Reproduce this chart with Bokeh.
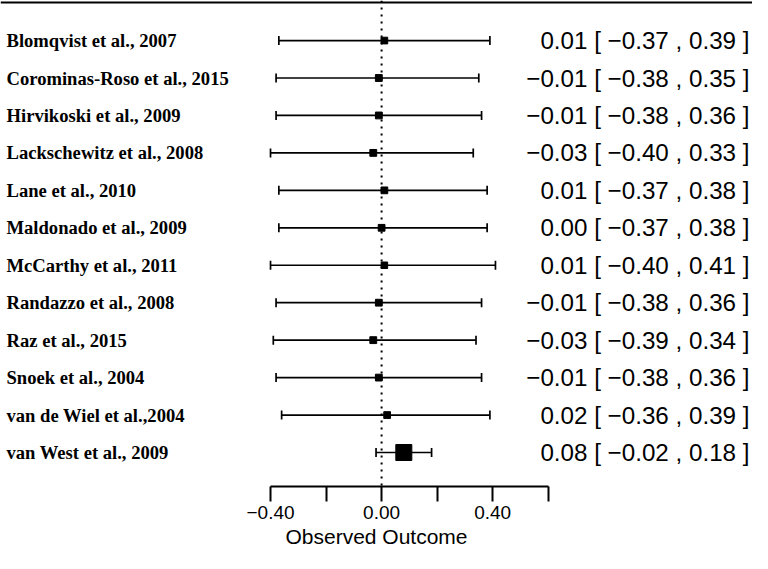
from bokeh.plotting import figure
from bokeh.models import Range1d, LinearAxis, FixedTicker, Span, ColumnDataSource
from bokeh.core.properties import value
from bokeh.embed import file_html
from bokeh.resources import INLINE

studies = ["Blomqvist et al., 2007", "Corominas-Roso et al., 2015", "Hirvikoski et al., 2009",
           "Lackschewitz et al., 2008", "Lane et al., 2010", "Maldonado et al., 2009",
           "McCarthy et al., 2011", "Randazzo et al., 2008", "Raz et al., 2015",
           "Snoek et al., 2004", "van de Wiel et al.,2004", "van West et al., 2009"]
estimate = [0.01, -0.01, -0.01, -0.03, 0.01, 0.00, 0.01, -0.01, -0.03, -0.01, 0.02, 0.08]
ci_lower = [-0.37, -0.38, -0.38, -0.40, -0.37, -0.37, -0.40, -0.38, -0.39, -0.38, -0.36, -0.02]
ci_upper = [0.39, 0.35, 0.36, 0.33, 0.38, 0.38, 0.41, 0.36, 0.34, 0.36, 0.39, 0.18]
tick_values = [-0.4, -0.2, 0.0, 0.2, 0.4, 0.6]
tick_labels = {-0.4: "\u22120.40", -0.2: "", 0.0: "0.00", 0.2: "", 0.4: "0.40", 0.6: ""}
axis_title = "Observed Outcome"

n = len(studies)
rows = [n - i for i in range(n)]

def fmt(v):
    s = "%.2f" % abs(v)
    return ("\u2212" + s) if v < 0 else s

# point size from inverse standard error (derived from CI width), as in metafor
se = [(u - l) / 3.92 for l, u in zip(ci_lower, ci_upper)]
w = [1.0 / s for s in se]
wmin, wmax = min(w), max(w)
psize = [6.5 + (wi - wmin) / (wmax - wmin) * 9.5 for wi in w]

W, H = 752, 553
FRAME_H = 486
PX_X = 277.7          # pixels per unit on x
PX_Y = 37.45          # pixels per row
x0 = -381.1 / PX_X
x1 = (W - 381.1) / PX_X
y0 = 1 - 34 / PX_Y
y1 = 1 + 452 / PX_Y

p = figure(width=W, height=H, output_backend="svg", toolbar_location=None,
           x_range=Range1d(x0, x1), y_range=Range1d(y0, y1),
           x_axis_type=None, y_axis_type=None,
           min_border_left=0, min_border_right=0, min_border_top=0,
           min_border_bottom=H - FRAME_H)
p.outline_line_color = None
p.grid.visible = False
p.background_fill_color = "white"
p.border_fill_color = "white"

cap = 4.5 / PX_Y
src = ColumnDataSource(dict(
    y=rows, est=estimate, lo=ci_lower, hi=ci_upper, size=psize,
    study=studies,
    lab=[fmt(e) + " [ " + fmt(l) + " , " + fmt(u) + " ]" for e, l, u in zip(estimate, ci_lower, ci_upper)],
    ytop=[r + cap for r in rows], ybot=[r - cap for r in rows],
    xl=[x0 + 6 / PX_X] * n, xr=[x0 + 749 / PX_X] * n,
))

# top rule
p.add_layout(Span(location=y1 - 2 / PX_Y, dimension="width", line_color="black", line_width=2.2))
# reference line at zero
p.add_layout(Span(location=0, dimension="height", line_color="black", line_width=2,
                  line_dash="2 5"))

p.segment(x0="lo", x1="hi", y0="y", y1="y", source=src, line_color="black", line_width=1.7)
p.segment(x0="lo", x1="lo", y0="ybot", y1="ytop", source=src, line_color="black", line_width=1.7)
p.segment(x0="hi", x1="hi", y0="ybot", y1="ytop", source=src, line_color="black", line_width=1.7)
p.scatter(x="est", y="y", size="size", marker="square", source=src,
          fill_color="black", line_color="black")

p.text(x="xl", y="y", text="study", source=src, text_font=value("Liberation Serif"),
       text_font_style="bold", text_font_size="18.6px", text_align="left",
       text_baseline="middle", text_color="black")
p.text(x="xr", y="y", text="lab", source=src, text_font=value("Liberation Sans"),
       text_font_size="24.2px", text_align="right", text_baseline="middle", text_color="black")

ax = LinearAxis(ticker=FixedTicker(ticks=tick_values), bounds=(-0.4, 0.6),
                major_label_overrides=tick_labels, axis_label=axis_title)
ax.axis_line_width = 2
ax.major_tick_line_width = 2
ax.major_tick_in = 0
ax.major_tick_out = 15
ax.minor_tick_line_color = None
ax.major_label_text_font = "Liberation Sans"
ax.major_label_text_font_size = "19px"
ax.major_label_standoff = 4
ax.axis_label_text_font = "Liberation Sans"
ax.axis_label_text_font_size = "21px"
ax.axis_label_text_font_style = "normal"
ax.axis_label_standoff = 3
ax.axis_label_text_color = "black"
ax.major_label_text_color = "black"
p.add_layout(ax, "below")

open("out.html", "w").write(file_html(p, INLINE))
